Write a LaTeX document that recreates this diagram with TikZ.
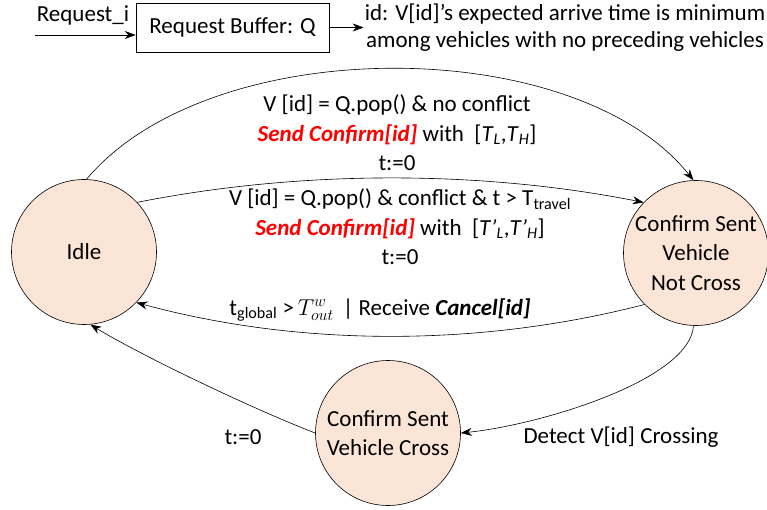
\documentclass[tikz,border=0pt]{standalone}
\usepackage{fix-cm}
\usepackage{fontspec}
\setmainfont{Carlito}
\usetikzlibrary{arrows.meta}
\definecolor{peach}{HTML}{FBE5D6}
\definecolor{sendred}{HTML}{FF0000}
\tikzset{
  state/.style={circle,draw=black,line width=0.6pt,fill=peach,minimum size=145pt,inner sep=0pt,align=center},
  arr/.style={-{Stealth[length=11pt,width=8pt]},line width=0.6pt},
  lbl/.style={align=center,inner sep=1pt},
}
\newcommand{\sendc}{\textcolor{sendred}{\textbf{\textit{Send Confirm[id]}}}}
\begin{document}
\begin{tikzpicture}[x=1pt,y=-1pt,font=\fontsize{23}{29.5}\selectfont]
\useasboundingbox (0,0) rectangle (767,510);
% top part
\node[draw,line width=0.6pt,minimum width=193pt,minimum height=49pt,inner sep=0pt] (buf) at (232.5,27.5) {Request Buffer: Q};
\node[lbl] (reqi) at (83,15) {Request\_i};
\coordinate (rin) at (35,35);
\draw[arr] (rin) -- (rin -| buf.west);
\node[lbl,font=\fontsize{23}{27}\selectfont] (desc) at (565,27.5) {id: V[id]’s expected arrive time is minimum\\among vehicles with no preceding vehicles};
\draw[arr] (buf.east) -- (buf.east -| desc.west);
% states
\node[state] (idle) at (84,252) {Idle};
\node[state] (nc) at (696,253) {Confirm Sent\\Vehicle\\Not Cross};
\node[state] (vc) at (388,433) {Confirm Sent\\Vehicle Cross};
% transitions
\draw[arr] (idle.88) .. controls (210,32) and (575,32) .. (nc.92);
\draw[arr] (idle.43) .. controls (300,170) and (480,170) .. (nc.136);
\draw[arr] (nc.-135) .. controls (480,347) and (300,347) .. (idle.-44);
\draw[arr] (nc.-92) .. controls (690,380) and (540,425) .. (vc.0);
\draw[arr] (vc.180) .. controls (255,410) and (140,355) .. (idle.-85);
% labels
\node[lbl] (l1) at (397,133) {V [id] = Q.pop() \& no conflict\\ \sendc{} with\ \ [\textit{T}\textsubscript{\textit{L}},\textit{T}\textsubscript{\textit{H}}]\\ t:=0};
\node[lbl] (l2) at (400,227) {V [id] = Q.pop() \& conflict \& t > T\textsubscript{travel}\\ \sendc{} with\ \ [\textit{T’}\textsubscript{\textit{L}},\textit{T’}\textsubscript{\textit{H}}]\\ t:=0};
\node[lbl] (l3) at (380,310) {t\textsubscript{global}\ >\,{\fontsize{23}{26}\selectfont$T^{w}_{out}$}\ \,| Receive \textbf{\textit{Cancel[id]}}};
\node[lbl] (l4) at (243,437) {t:=0};
\node[lbl] (l5) at (621,437) {Detect V[id] Crossing};
\end{tikzpicture}
\end{document}
